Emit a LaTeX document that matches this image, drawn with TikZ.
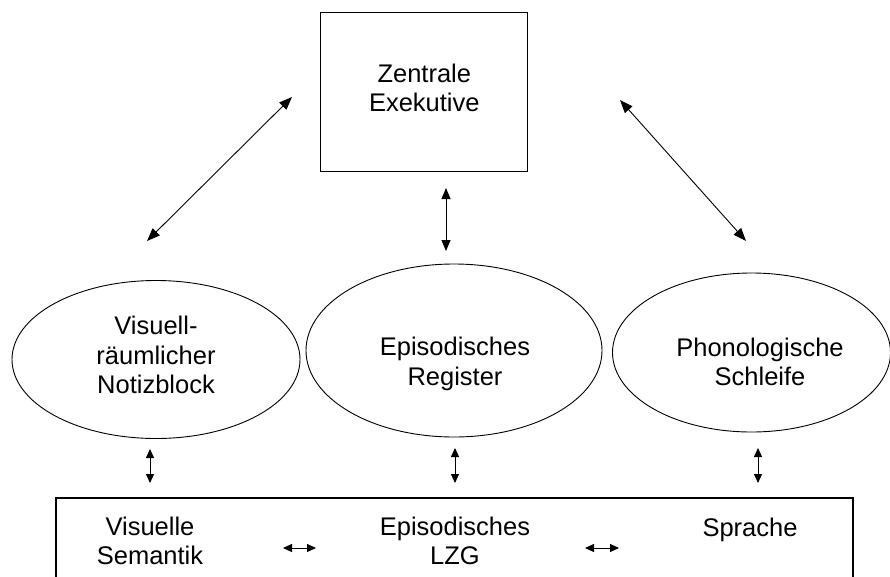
\documentclass[tikz,border=0pt]{standalone}
\usepackage{fontspec}
\setmainfont{Liberation Sans}
\usetikzlibrary{shapes.geometric,arrows.meta}
\tikzset{
  box/.style={draw, line width=1.3pt, rectangle, inner sep=0pt},
  ell/.style={draw, line width=0.9pt, ellipse, inner sep=0pt},
  lbl/.style={align=center, inner sep=0pt, font=\fontsize{25.5}{29.3}\selectfont},
  bigarr/.style={line width=0.9pt, {Triangle[length=13pt,width=10pt]}-{Triangle[length=13pt,width=10pt]}},
  midarr/.style={line width=0.9pt, {Triangle[length=11pt,width=9pt]}-{Triangle[length=11pt,width=9pt]}},
  smallarr/.style={line width=0.9pt, {Triangle[length=9pt,width=8pt]}-{Triangle[length=9pt,width=8pt]}}
}
\begin{document}
\begin{tikzpicture}[x=1pt,y=-1pt]
\useasboundingbox (0,0) rectangle (890,576);
\clip (0,0) rectangle (890,576);
% top box
\node[box, minimum width=207pt, minimum height=159pt] (ze) at (424.3,92.2) {};
\node[lbl] (zeT) at (424.3,88) {Zentrale\\Exekutive};
% ellipses
\node[ell, minimum width=288pt, minimum height=158pt] (vn) at (156,359.5) {};
\node[lbl] (vnT) at (156,355) {Visuell-\\räumlicher\\Notizblock};
\node[ell, minimum width=296pt, minimum height=173pt] (er) at (454,350.5) {};
\node[lbl] (erT) at (455,364) {Episodisches\\Register};
\node[ell, minimum width=278pt, minimum height=159pt] (ps) at (751.5,352.5) {};
\node[lbl] (psT) at (760,362) {Phonologische\\Schleife};
% bottom box
\node[box, line width=1.5pt, minimum width=797pt, minimum height=120pt, anchor=north west] (lzg) at (55,497) {};
\node[lbl] (vsT) at (150,541) {Visuelle\\Semantik};
\node[lbl] (elT) at (455,541) {Episodisches\\LZG};
\node[lbl] (spT) at (750,529.5) {Sprache};
% arrow endpoints
\coordinate (a1) at (147,241);
\coordinate (a2) at (292,97);
\coordinate (b1) at (620,100);
\coordinate (b2) at (746,241);
\coordinate (c1) at (446,188);
\coordinate (c2) at (446,251);
\coordinate (d1) at (150,449);
\coordinate (d2) at (150,483);
\coordinate (e1) at (455,448);
\coordinate (e2) at (455,483);
\coordinate (f1) at (758,448);
\coordinate (f2) at (758,483);
\coordinate (g1) at (283,548);
\coordinate (g2) at (316,548);
\coordinate (h1) at (585,548);
\coordinate (h2) at (619,548);
\draw[bigarr] (a1) -- (a2);
\draw[bigarr] (b1) -- (b2);
\draw[midarr] (c1) -- (c2);
\draw[smallarr] (d1) -- (d2);
\draw[smallarr] (e1) -- (e2);
\draw[smallarr] (f1) -- (f2);
\draw[smallarr] (g1) -- (g2);
\draw[smallarr] (h1) -- (h2);
\end{tikzpicture}
\end{document}
